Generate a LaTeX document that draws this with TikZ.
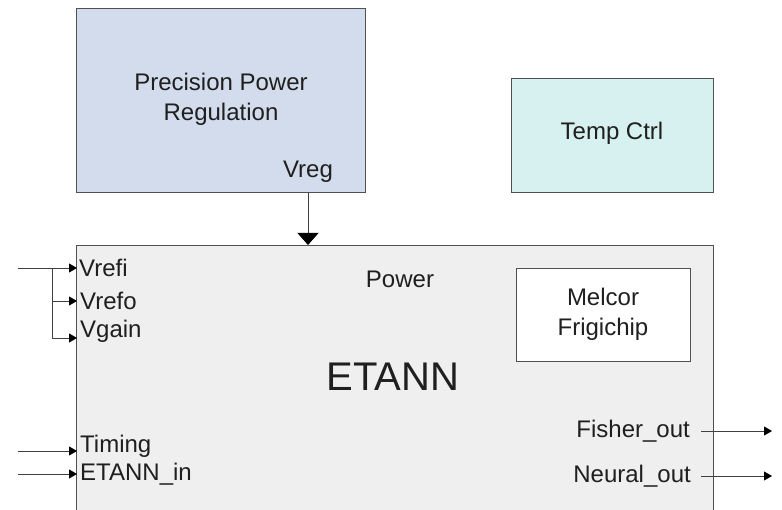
\documentclass[tikz,border=0pt]{standalone}
\usepackage{fontspec}
\setmainfont{Liberation Sans}
\usetikzlibrary{arrows.meta}
\definecolor{regblue}{HTML}{D2DCEC}
\definecolor{tempcyan}{HTML}{D6F1EF}
\definecolor{etanngray}{HTML}{EEEFEE}
\definecolor{edgegray}{HTML}{505050}
\begin{document}
\begin{tikzpicture}[x=1pt,y=-1pt,
  blk/.style={draw=edgegray,line width=0.9pt},
  lbl/.style={font=\fontsize{24}{27}\selectfont,text=black!88,inner sep=0pt},
  wire/.style={draw=black!75,line width=0.8pt},
  tip/.style={-{Triangle[length=8pt,width=9pt,color=black]}},
  bigtip/.style={-{Triangle[length=12pt,width=21pt,color=black]}}]
\useasboundingbox (0,0) rectangle (782,510);
% boxes
\path[blk,fill=regblue] (76,8) rectangle (365,192);
\node[lbl,align=center] (ppr) at (221,99) {Precision Power\\[3pt]Regulation};
\node[lbl] (vreg) at (308,172) {Vreg};
\coordinate (vregout) at (308,192);
\path[blk,fill=tempcyan] (511,78) rectangle (713,192);
\node[lbl] (temp) at (612,133) {Temp Ctrl};
\path[blk,fill=etanngray] (76,245) rectangle (713,515);
\coordinate (etanntop) at (308,245);
\node[lbl] (power) at (400,279) {Power};
\path[blk,fill=white] (516,268) rectangle (690,361);
\node[lbl,align=center] (melcor) at (603,314) {Melcor\\[3pt]Frigichip};
\node[font=\fontsize{40}{44}\selectfont,text=black!88,inner sep=0pt] (etann) at (393,377) {ETANN};
% power arrow
\draw[wire,bigtip] (vregout) -- (etanntop);
% left inputs
\coordinate (inA) at (18,268);
\coordinate (br) at (52,268);
\coordinate (brB) at (52,301);
\coordinate (brC) at (52,338);
\coordinate (pA) at (77,268);
\coordinate (pB) at (77,301);
\coordinate (pC) at (77,338);
\draw[wire,tip] (inA) -- (pA);
\draw[wire] (br) -- (brC);
\draw[wire,tip] (brB) -- (pB);
\draw[wire,tip] (brC) -- (pC);
\node[lbl,anchor=west] (vrefi) at (79,268) {Vrefi};
\node[lbl,anchor=west] (vrefo) at (80,301) {Vrefo};
\node[lbl,anchor=west] (vgain) at (80,331) {Vgain};
\coordinate (inT) at (18,451);
\coordinate (pT) at (77,451);
\coordinate (inE) at (18,474);
\coordinate (pE) at (77,474);
\draw[wire,tip] (inT) -- (pT);
\draw[wire,tip] (inE) -- (pE);
\node[lbl,anchor=west] (timing) at (80,446) {Timing};
\node[lbl,anchor=west] (etannin) at (80,474) {ETANN\_in};
% outputs
\node[lbl,anchor=east] (fisher) at (690,431) {Fisher\_out};
\node[lbl,anchor=east] (neural) at (691,476) {Neural\_out};
\coordinate (fo) at (772,431);
\coordinate (no) at (772,476);
\draw[wire,tip] (fisher.east) ++(11,0) -- (fo);
\draw[wire,tip] (neural.east) ++(10,0) -- (no);
\end{tikzpicture}
\end{document}
